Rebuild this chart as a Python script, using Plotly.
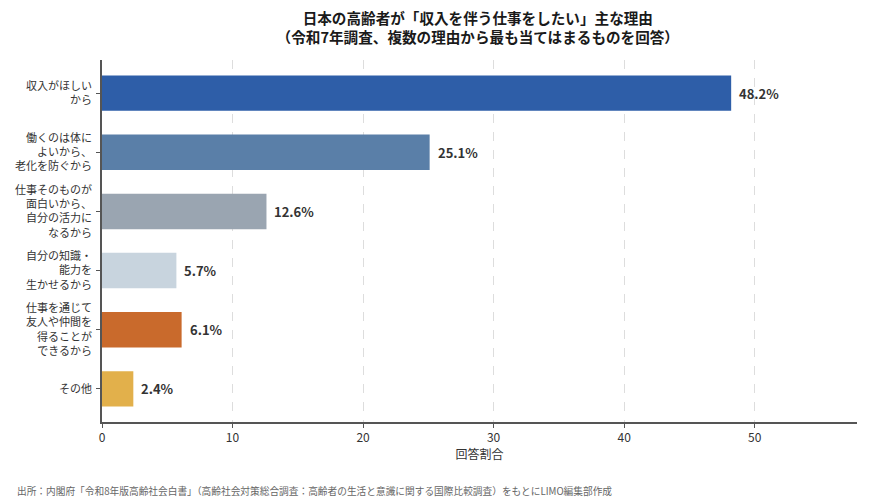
import plotly.graph_objects as go

# categories, top to bottom
reasons = [
    '収入がほしい<br>から',
    '働くのは体に<br>よいから、<br>老化を防ぐから',
    '仕事そのものが<br>面白いから、<br>自分の活力に<br>なるから',
    '自分の知識・<br>能力を<br>生かせるから',
    '仕事を通じて<br>友人や仲間を<br>得ることが<br>できるから',
    'その他',
]
shares = [48.2, 25.1, 12.6, 5.7, 6.1, 2.4]
bar_colors = ['#2e5ea8', '#5a7fa8', '#9aa5b1', '#c8d4de', '#c96a2c', '#e2b04b']
x_ticks = [0, 10, 20, 30, 40, 50]

title = '日本の高齢者が「収入を伴う仕事をしたい」主な理由<br>（令和7年調査、複数の理由から最も当てはまるものを回答）'
source = ('出所：内閣府「令和8年版高齢社会白書」（高齢社会対策総合調査：高齢者の生活と意識に関する国際比較調査）'
          'をもとにLIMO編集部作成')
font_family = 'Noto Sans CJK JP'

fig = go.Figure(go.Bar(
    x=shares,
    y=reasons,
    orientation='h',
    width=0.6,
    marker={'color': bar_colors, 'line': {'width': 0}},
    hoverinfo='x+y',
))

# value labels just right of each bar end
for reason, v in zip(reasons, shares):
    fig.add_annotation(
        x=v, y=reason, text=f'<b>{v}%</b>',
        xanchor='left', yanchor='middle', xshift=6,
        showarrow=False,
        font={'size': 13, 'color': '#333333'},
    )

fig.add_annotation(
    text=source,
    xref='paper', yref='paper',
    x=-0.115, y=-0.19,
    xanchor='left', yanchor='middle',
    showarrow=False,
    font={'size': 9.7, 'color': '#666666'},
)

# page body has an 8px margin, so the figure is a bit smaller than the window
fig.update_layout(
    width=862,
    height=496,
    margin={'l': 94, 'r': 13, 't': 52, 'b': 82},
    plot_bgcolor='white',
    paper_bgcolor='white',
    font={'family': font_family, 'color': '#333333', 'size': 12},
    showlegend=False,
    title={
        'text': f'<b>{title}</b>',
        'x': 0.545, 'xanchor': 'center',
        'y': 0.968, 'yanchor': 'top',
        'font': {'size': 14.6, 'color': '#1a1a1a'},
    },
    xaxis={
        'range': [0, 57.84],
        'tickvals': x_ticks,
        'automargin': False,
        'showgrid': True,
        'gridcolor': '#dddddd',
        'griddash': 'dash',
        'gridwidth': 1,
        'zeroline': False,
        'showline': True,
        'linecolor': '#555555',
        'linewidth': 1.5,
        'ticks': 'outside',
        'ticklen': 4,
        'tickcolor': '#555555',
        'tickfont': {'size': 12},
        'title': {'text': '回答割合', 'font': {'size': 12}, 'standoff': 4},
    },
    yaxis={
        'autorange': False,
        'range': [5.56, -0.56],
        'automargin': False,
        'showgrid': False,
        'zeroline': False,
        'showline': True,
        'linecolor': '#555555',
        'linewidth': 1.5,
        'ticks': 'outside',
        'ticklen': 4,
        'tickcolor': '#555555',
        'tickfont': {'size': 11},
        'ticklabelstandoff': 2,
    },
)

fig.write_html('out.html')
